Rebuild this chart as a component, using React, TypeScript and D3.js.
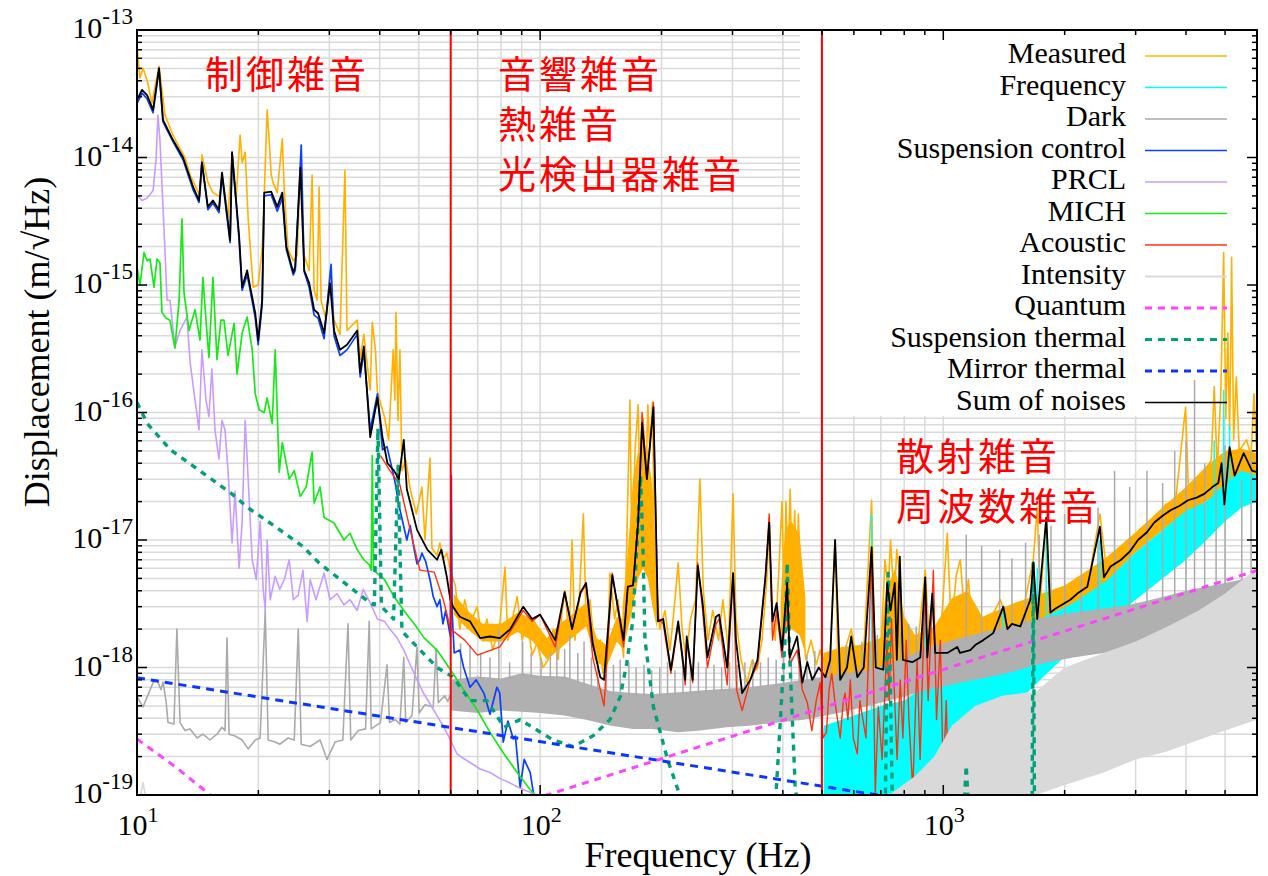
import React from "react";
import * as d3 from "d3";

type Pt = [number, number];
type Bd = [number, number, number];

// ---------------- data (frequency Hz, displacement m/rtHz) ----------------
const sumOfNoises: Pt[] = [
  [10,2.83e-14],[10.29,3.39e-14],[10.59,3.09e-14],[10.96,2.36e-14],[11.34,5.03e-14],[11.6,1.97e-14],[12.28,1.37e-14],[13.01,1.0e-14],[13.77,5.9e-15],[14.25,4.6e-15],[14.49,9.1e-15],[14.99,4.1e-15],[15.43,4.6e-15],[15.97,3.9e-15],[16.25,7.6e-15],[17.02,2.25e-15],[17.21,1.1e-14],[17.92,2.4e-15],[18.23,9.6e-16],[18.76,1.3e-15],[19.09,9.6e-16],[19.65,6.0e-16],[19.98,3.7e-16],[20.44,7.6e-16],[20.68,5.3e-15],[21.52,5.4e-15],[22.28,4.1e-15],[22.93,5.3e-15],[23.46,2.0e-15],[24.42,1.25e-15],[24.69,1.4e-15],[25.43,8.3e-15],[25.99,1.3e-15],[26.73,1.04e-15],[27.5,6.4e-16],[28.13,6.0e-16],[29.11,4.2e-16],[30.12,1.03e-15],[30.81,4.4e-16],[31.88,3.1e-16],[33.18,3.4e-16],[35.17,4.4e-16],[35.78,2.05e-16],[36.53,3.3e-16],[37.89,6.4e-17],[39.48,1.3e-16],[40.64,6.4e-17],[41.8,4.0e-17],[43.4,3.5e-17],[44.6,3.0e-17],[45.9,6.1e-17],[46.7,2.5e-17],[49.5,1.2e-17],[52.5,8.4e-18],[55.5,7.0e-18],[56.9,8.4e-18],[58.7,5.1e-18],[59.9,3.4e-18],[60.8,3.0e-18],[63.2,2.5e-18],[67.0,2.3e-18],[71.0,1.7e-18],[75.1,1.75e-18],[79.4,1.7e-18],[84.3,2.0e-18],[90.8,3.0e-18],[95.5,2.4e-18],[100,2.6e-18],[109,1.64e-18],[115,3.9e-18],[120,2.0e-18],[126,3.9e-18],[130,4.6e-18],[135,1.55e-18],[141,8.4e-19],[144,8.0e-19],[151,5.3e-18],[161,1.64e-18],[165,4.3e-18],[170,4.4e-18],[175,1.37e-17],[179,8.3e-17],[184,3.0e-17],[191,1.1e-16],[196,2.3e-18],[202,2.4e-18],[211,9.6e-19],[220,2.3e-18],[229,8.0e-19],[231,1.75e-18],[239,8.0e-19],[246,6.3e-18],[253,3.2e-18],[260,1.2e-18],[273,2.5e-18],[278,2.6e-18],[291,1.0e-18],[301,5.5e-18],[306,1.64e-18],[317,6.3e-19],[332,8.0e-19],[346,1.15e-18],[362,5.1e-18],[370,1.37e-17],[377,2.3e-18],[386,3.2e-18],[398,1.37e-18],[410,4.6e-18],[416,1.2e-18],[434,1.75e-18],[447,7.6e-19],[460,1.1e-18],[473,8.0e-19],[491,1.0e-18],[510,8.4e-19],[524,1.15e-18],[539,1.0e-17],[555,8.0e-19],[577,1.0e-18],[591,1.75e-18],[612,8.4e-19],[635,1.0e-18],[664,8.8e-18],[680,1.0e-18],[710,9.6e-19],[726,4.6e-18],[740,2.8e-18],[758,4.6e-18],[767,1.15e-18],[780,7.4e-18],[794,1.15e-18],[838,1.1e-18],[877,1.2e-18],[902,5.1e-18],[913,1.2e-18],[939,3.8e-18],[955,1.3e-18],[1023,1.3e-18],[1083,1.45e-18],[1100,1.3e-18],[1167,1.37e-18],[1200,1.5e-18],[1257,1.64e-18],[1330,1.86e-18],[1409,3.0e-18],[1442,2.0e-18],[1480,2.2e-18],[1553,2.1e-18],[1644,3.4e-18],[1672,6.6e-18],[1710,2.4e-18],[1801,1.5e-17],[1843,2.7e-18],[1900,2.9e-18],[2066,3.4e-18],[2150,3.8e-18],[2277,4.3e-18],[2446,1.27e-17],[2503,5.1e-18],[2600,6.2e-18],[2760,7.0e-18],[2900,8.1e-18],[3040,1.0e-17],[3200,1.15e-17],[3337,1.37e-17],[3500,1.55e-17],[3670,1.72e-17],[3850,1.85e-17],[4045,2.05e-17],[4250,2.15e-17],[4440,2.3e-17],[4650,2.6e-17],[4810,2.8e-17],[4900,4.0e-17],[4980,1.9e-17],[5130,5.35e-17],[5280,3.2e-17],[5560,4.8e-17],[5830,3.5e-17],[6000,3.4e-17]
];

const measured: Pt[] = [
  [10,7.4e-14],[10.17,4.2e-14],[10.35,5.0e-14],[10.59,4.06e-14],[10.89,2.68e-14],[11.34,5.2e-14],[11.73,2.16e-14],[12.28,1.5e-14],[12.79,1.17e-14],[13.15,1.0e-14],[13.54,7.3e-15],[14.09,5.6e-15],[14.33,5.0e-15],[14.49,1.05e-14],[14.99,6.4e-15],[15.43,5.3e-15],[16.06,4.9e-15],[16.25,7.6e-15],[16.82,3.4e-15],[17.21,1.1e-14],[17.6,4.6e-15],[18.02,1.5e-14],[18.23,9.1e-15],[18.55,1.1e-14],[18.87,3.3e-15],[19.42,9.6e-16],[19.98,1.0e-15],[20.44,1.9e-15],[20.68,5.1e-15],[21.03,2.37e-14],[21.28,1.37e-14],[21.52,7.3e-15],[21.77,6.3e-15],[22.28,5.3e-15],[22.93,1.4e-14],[23.19,5.6e-15],[23.7,1.9e-15],[24.42,1.55e-15],[24.97,1.7e-15],[25.41,8.7e-15],[25.99,1.7e-15],[26.73,1.3e-15],[27.19,7.3e-15],[27.5,9.1e-16],[27.97,7.6e-16],[28.29,5.9e-15],[28.62,7.6e-16],[29.45,5.3e-16],[30.12,1.3e-15],[30.81,5.3e-16],[31.88,4.1e-16],[32.8,7.9e-15],[33.18,4.4e-16],[35.17,5.3e-16],[35.78,2.6e-16],[36.53,4.1e-16],[37.89,1.5e-16],[38.34,5.1e-16],[39.03,3.1e-16],[39.48,1.45e-16],[41.11,9.2e-17],[42.1,6.1e-17],[43.2,3.1e-16],[43.6,1.25e-16],[43.9,6.1e-16],[44.4,8.7e-17],[44.9,3.1e-16],[45.4,3.5e-17],[46.5,4.2e-17],[47.6,2.5e-17],[49.3,1.6e-17],[50.9,2.6e-17],[51.8,1.0e-17],[53.3,4.4e-17],[53.9,8.6e-18],[55.5,7.6e-18],[56.4,9.5e-18],[57.4,7.0e-18],[58.7,7.9e-18],[59.9,5.8e-18],[61.6,4.4e-18],[63.2,2.0e-18],[65,3.4e-18],[67,2.2e-18],[69.8,3.0e-18],[71.8,1.64e-18],[73.8,2.4e-18],[76.3,1.37e-18],[79.4,2.2e-18],[81.8,6.1e-18],[83.2,1.64e-18],[85.8,2.6e-18],[87.7,3.6e-18],[90.3,1.64e-18],[92.9,2.4e-18],[95.5,1.25e-18],[98.3,1.55e-18],[101.7,1.0e-18],[104.7,1.15e-18],[107.7,2.0e-18],[110.8,1.15e-18],[113.4,2.8e-18],[115.4,4.0e-18],[118,1.64e-18],[120,1.0e-17],[122,1.64e-18],[125,3.4e-18],[128,1.6e-17],[130,2.4e-18],[133,3.4e-18],[137,1.15e-18],[141,1.64e-18],[143,9.0e-19],[147,1.37e-18],[149,5.5e-18],[153,2.4e-18],[156,3.4e-18],[161,1.2e-18],[163,4.0e-18],[167,1.25e-16],[169,7.0e-18],[172,5.1e-17],[175,1.15e-16],[177,2.05e-17],[180,9.0e-17],[183,3.0e-17],[185,1.15e-16],[187,5.1e-17],[190,1.2e-16],[192,8.4e-18],[195,4.0e-18],[198,2.0e-18],[204,2.8e-18],[210,1.37e-18],[216,3.4e-18],[220,6.6e-18],[225,2.0e-18],[230,1.15e-18],[236,2.4e-18],[243,3.4e-18],[249,3.0e-17],[254,4.0e-18],[261,1.64e-18],[268,2.8e-18],[277,1.64e-18],[284,3.4e-18],[293,1.37e-18],[301,2.3e-17],[306,2.4e-18],[315,1.15e-18],[326,7.6e-19],[336,1.15e-18],[345,9.6e-19],[355,1.64e-18],[365,4.9e-18],[370,1.5e-17],[374,3.4e-18],[383,1.64e-18],[392,7.0e-18],[398,2.0e-17],[404,2.4e-18],[407,2.0e-17],[412,7.0e-18],[417,2.5e-17],[422,4.9e-18],[428,1.7e-17],[433,3.4e-18],[437,1.6e-17],[446,2.4e-18],[456,1.15e-18],[470,1.64e-18],[484,1.05e-18],[495,1.37e-18],[513,9.6e-19],[524,1.25e-18],[539,1.0e-17],[548,1.05e-18],[570,1.37e-18],[591,2.0e-18],[612,1.1e-18],[635,1.37e-18],[664,2.05e-17],[676,1.25e-18],[700,1.37e-18],[717,7.0e-18],[730,4.0e-18],[740,1.0e-17],[755,3.4e-18],[767,8.4e-18],[782,4.9e-18],[794,1.5e-18],[828,1.25e-18],[867,1.64e-18],[902,5.8e-18],[923,1.64e-18],[955,2.0e-18],[983,1.64e-18],[1023,1.13e-17],[1047,2.0e-18],[1077,5.3e-18],[1102,7.0e-18],[1127,2.8e-18],[1154,4.9e-18],[1180,2.0e-18],[1235,2.2e-18],[1308,2.4e-18],[1385,3.4e-18],[1425,2.6e-18],[1509,2.8e-18],[1597,3.4e-18],[1672,7.0e-18],[1710,1.8e-17],[1741,3.4e-18],[1801,1.5e-17],[1843,3.1e-18],[1951,3.6e-18],[2066,4.0e-18],[2188,4.9e-18],[2317,5.8e-18],[2446,1.6e-17],[2523,7.0e-18],[2672,7.6e-18],[2830,9.2e-18],[2996,1.1e-17],[3175,1.3e-17],[3360,1.45e-17],[3560,1.9e-17],[3770,2.05e-17],[3990,1.1e-16],[4060,2.2e-17],[4230,2.9e-17],[4440,3.5e-17],[4620,4.2e-17],[4700,1.6e-16],[4780,3.5e-17],[4880,1.4e-16],[4960,1.8e-15],[5020,9.0e-17],[5080,4.2e-16],[5130,7.3e-17],[5160,2.5e-16],[5190,1.65e-15],[5250,6.1e-17],[5330,1.9e-16],[5420,5.0e-17],[5650,6.1e-17],[5800,4.6e-17],[5900,1.4e-16],[6000,4.2e-17]
];

const measuredBandLow: Bd[] = [
  [61,2.6e-18,3.8e-18],[66,2.0e-18,2.8e-18],[72,1.6e-18,2.2e-18],[80,1.6e-18,2.2e-18],[88,1.9e-18,2.7e-18],[96,1.6e-18,2.4e-18],[104,1.15e-18,1.7e-18],[112,1.4e-18,2.2e-18],[120,1.7e-18,2.6e-18],[130,2.1e-18,3.2e-18],[138,1.1e-18,1.7e-18],[146,1.0e-18,1.5e-18],[155,1.6e-18,2.5e-18],[160,1.4e-18,2.4e-18]
];
const measuredBand170: Bd[] = [
  [160,1.3e-18,3e-18],[165,2e-18,8e-18],[170,3e-18,3e-17],[175,5e-18,5e-17],[180,6e-18,6e-17],[185,5e-18,5e-17],[190,3e-18,2.5e-17],[195,2e-18,4e-18]
];
const measuredBand420: Bd[] = [
  [395,1.5e-18,3.5e-18],[405,2e-18,1.2e-17],[420,2e-18,1.4e-17],[440,1.8e-18,1.1e-17],[455,1.3e-18,3.5e-18]
];
const measuredBandHigh: Bd[] = [
  [505,7.5e-19,1.3e-18],[560,8e-19,1.45e-18],[620,8.5e-19,1.5e-18],[700,9e-19,1.7e-18],[720,1e-18,4e-18],[760,1.1e-18,6e-18],[800,1e-18,2.5e-18],[850,1e-18,1.8e-18],[950,1.1e-18,2.1e-18],[1050,1.2e-18,3.5e-18],[1150,1.3e-18,4e-18],[1250,1.4e-18,2.5e-18],[1500,1.9e-18,3.2e-18],[2000,2.8e-18,4.4e-18],[2500,4.5e-18,7e-18],[3000,8e-18,1.15e-17],[3500,1.2e-17,1.8e-17],[4000,1.6e-17,2.6e-17],[4500,2e-17,3.8e-17],[5000,2.3e-17,5e-17],[5500,2.8e-17,5.2e-17],[6000,2.8e-17,4.8e-17]
];

const frequencyBand: Bd[] = [
  [505,5e-20,3.5e-19],[600,5e-20,4.2e-19],[700,6e-20,5e-19],[800,8e-20,5.5e-19],[890,1.05e-19,7e-19],[1000,1.8e-19,8e-19],[1190,2.7e-19,9.6e-19],[1440,4.4e-19,1.6e-18],[1740,8e-19,2.4e-18],[2100,1.4e-18,3.2e-18],[2540,2.2e-18,4.8e-18],[3000,3.4e-18,8e-18],[3500,5e-18,1.2e-17],[4000,7e-18,1.7e-17],[4500,1e-17,2e-17],[5000,1.4e-17,2.8e-17],[5500,1.8e-17,3.5e-17],[6000,2e-17,3.2e-17]
];
const frequencySpikes: Pt[] = [
  [664,1.6e-17],[902,4e-18],[1409,2.8e-18],[1710,6e-18],[1801,1.5e-17],[2446,1e-17],[4700,6e-17],[4960,1.5e-16],[5130,8e-17]
];

const darkLow: Pt[] = [
  [10,5.9e-19],[10.35,4.9e-19],[10.65,6.1e-19],[10.96,7.6e-19],[11.21,8e-19],[11.47,6.7e-19],[11.6,7.7e-19],[11.8,5.5e-19],[11.94,3.7e-19],[12.35,3.6e-19],[12.56,2.0e-18],[12.79,3.7e-19],[13.15,3.2e-19],[13.54,3.3e-19],[14.09,2.8e-19],[14.57,3.0e-19],[15.17,2.7e-19],[15.79,3.0e-19],[16.25,3.4e-19],[16.53,3.2e-19],[16.72,1.7e-18],[16.92,3.0e-19],[17.51,2.9e-19],[18.23,2.7e-19],[18.87,2.3e-19],[19.65,2.7e-19],[20.2,2.8e-19],[20.8,2.8e-18],[21.15,2.7e-19],[22.02,2.6e-19],[22.6,2.5e-19],[23.7,2.8e-19],[24.55,2.7e-19],[25.12,2.0e-18],[25.55,2.5e-19],[26.88,2.4e-19],[28.45,2.7e-19],[29.61,1.9e-19],[31.0,2.6e-19],[32.4,2.7e-19],[33.37,2.2e-18],[33.9,2.7e-19],[35.4,3.2e-19],[36.9,3.3e-19],[37.67,2.3e-18],[38.1,3.3e-19],[40.17,3.7e-19],[41.7,1.05e-18],[42.3,3.7e-19],[43.7,3.9e-19],[44.9,3.6e-19],[45.9,1.2e-18],[46.4,3.7e-19],[48.1,4.2e-19],[49.5,1.45e-18],[50.1,4.4e-19],[51.8,5.1e-19],[54.3,4.9e-19],[55.2,1.4e-18],[55.9,5.3e-19],[58,6.0e-19],[59,5.4e-19],[60,6.2e-19]
];
const darkBand: Bd[] = [
  [60,4.6e-19,8e-19],[70,4.4e-19,8.5e-19],[80,4.6e-19,8.2e-19],[90,4.5e-19,9e-19],[100,4.4e-19,8.6e-19],[115,4.2e-19,8.5e-19],[130,3.9e-19,7.5e-19],[150,3.5e-19,6.5e-19],[170,3.3e-19,6.3e-19],[190,3.3e-19,6.2e-19],[220,3.1e-19,6.4e-19],[250,3.2e-19,6.6e-19],[290,3.4e-19,6.8e-19],[330,3.5e-19,7e-19],[390,3.7e-19,7.5e-19],[450,3.9e-19,8e-19],[550,4.4e-19,8.8e-19],[650,5e-19,9.5e-19],[780,5.8e-19,1.15e-18],[900,6.6e-19,1.4e-18],[1100,7.6e-19,1.7e-18],[1440,9e-19,2.1e-18],[1700,1.05e-18,2.4e-18],[2100,1.2e-18,2.7e-18],[2500,1.3e-18,2.9e-18],[2900,1.4e-18,3.1e-18],[3400,1.5e-18,3.5e-18],[4000,1.6e-18,4e-18],[5000,1.8e-18,4.6e-18],[6000,2e-18,5.2e-18]
];
const darkSpikes: Pt[] = [
  [63.5,1.55e-18],[67,1.5e-18],[71.2,1.3e-18],[75.1,1.2e-18],[79,2e-18],[84,1.1e-18],[90.5,1.6e-18],[95,1.3e-18],[100.5,1.2e-18],[106,1.3e-18],[110,2e-18],[115,1.4e-18],[118.5,1.8e-18],[124,1.3e-18],[128.5,1.6e-18],[134,1.2e-18],[139,1.1e-18],[146,1.2e-18],[152,1.05e-18],[158,1.15e-18],[166,1.1e-18],[173,1e-18],[181,1.05e-18],[189,9.5e-19],[198,1e-18],[207,1.1e-18],[216,9.5e-19],[226,1.05e-18],[236,1e-18],[247,1.1e-18],[258,1e-18],[270,1.05e-18],[282,1e-18],[295,1.1e-18],[308,1.05e-18],[322,1.1e-18],[337,1.15e-18],[352,1.1e-18],[368,1.2e-18],[385,1.15e-18],[402,1.25e-18],[420,1.2e-18],[439,1.3e-18],[459,1.25e-18],[480,1.35e-18],[502,1.3e-18],[525,1.4e-18],[549,1.35e-18],[574,1.5e-18],[600,1.4e-18],[628,1.6e-18],[656,1.5e-18],[686,1.8e-18],[717,1.7e-18],[750,2e-18],[784,1.9e-18],[820,2.2e-18],[857,2.1e-18],[896,2.5e-18],
  [1140,1.1e-17],[1245,9e-18],[1380,8.4e-18],[1480,7.2e-18],[1600,9.5e-18],[1730,1.1e-17],[1850,1.3e-17],[2000,1.6e-17],[2200,1.5e-17],[2420,1.8e-17],[2660,3.5e-17],[2900,2.6e-17],[3200,3.5e-17],[3500,2.8e-17],[3750,5e-17],[4000,6e-17],[4200,1.8e-16],[4450,4e-17],[4750,2.8e-17],[5000,5.5e-17],[5500,3e-17],[5800,5e-17]
];

const suspensionControl: Pt[] = [
  [10,2.65e-14],[10.29,3.2e-14],[10.59,2.9e-14],[10.96,2.25e-14],[11.34,4.9e-14],[11.6,1.9e-14],[12.28,1.33e-14],[13.01,9.6e-15],[13.77,5.6e-15],[14.25,4.45e-15],[14.49,9.2e-15],[14.99,3.9e-15],[15.43,4.4e-15],[15.97,3.7e-15],[16.25,7.2e-15],[17.02,2.15e-15],[17.21,1.07e-14],[17.92,2.25e-15],[18.23,9.1e-16],[18.76,1.2e-15],[19.09,9.1e-16],[19.65,5.5e-16],[19.98,3.4e-16],[20.44,7.0e-16],[20.68,5.0e-15],[21.52,5.1e-15],[22.28,3.8e-15],[22.93,4.8e-15],[23.46,1.9e-15],[24.42,1.2e-15],[24.69,1.3e-15],[25.55,1.25e-14],[25.99,1.27e-15],[26.73,9.6e-16],[27.5,5.8e-16],[28.13,5.5e-16],[29.11,3.8e-16],[30.3,1.45e-15],[30.81,4.0e-16],[31.88,2.8e-16],[33.18,3.1e-16],[35.17,4.1e-16],[35.78,1.9e-16],[36.53,3.0e-16],[37.89,7.3e-17],[39.48,1.4e-16],[40.64,5.1e-17],[41.7,5.4e-17],[43.7,2.8e-17],[44.6,1.9e-17],[46.7,1.0e-17],[47.6,1.3e-17],[48.7,8.4e-18],[49.5,6.5e-18],[50.3,7.0e-18],[50.9,7.9e-18],[52,6.8e-18],[53.3,4.9e-18],[54.3,3.6e-18],[55.5,3.0e-18],[56.4,3.4e-18],[57.4,2.2e-18],[58.3,2.8e-18],[59.9,1.75e-18],[60.2,3.2e-17],[60.5,2.7e-18],[61.2,1.3e-18],[63.2,1.37e-18],[64.6,1.0e-18],[67,7.0e-19],[69.4,8.0e-19],[72.5,6.3e-19],[75.1,4.3e-19],[78.1,7.0e-19],[79.4,6.3e-19],[81,2.6e-19],[83.2,3.8e-19],[85.8,2.75e-19],[86.8,2.9e-19],[89.2,1.15e-19],[91.3,1.9e-19],[94.5,1.5e-19],[96.2,1.04e-19],[98.3,9.0e-20]
];

const prcl: Pt[] = [
  [10,5.1e-15],[10.29,4.6e-15],[10.59,4.8e-15],[10.96,5.5e-15],[11.15,9.6e-15],[11.27,2.15e-14],[11.4,1.37e-14],[11.6,4.1e-15],[11.73,1.9e-15],[11.87,7.6e-16],[12.07,7.6e-16],[12.42,3.3e-16],[12.79,4.4e-16],[13.3,5.6e-16],[13.54,2.5e-16],[13.93,1.25e-16],[14.25,7.3e-17],[14.49,3.1e-16],[14.83,1.25e-16],[15.08,9.3e-17],[15.34,2.2e-16],[15.61,7.3e-17],[15.97,4.3e-17],[16.25,8.7e-17],[16.53,7.3e-17],[16.82,3.5e-17],[17.21,9.5e-18],[17.51,2.4e-17],[17.92,6e-18],[18.23,1.4e-17],[18.55,8.7e-17],[18.87,3e-17],[19.31,7e-18],[19.76,4.9e-18],[20.21,1.4e-17],[20.56,4.1e-18],[20.8,2.8e-18],[21.03,1e-17],[21.4,3.4e-18],[22.02,5.2e-18],[22.6,4.1e-18],[23.19,4.9e-18],[23.86,7e-18],[24.42,3.4e-18],[25.12,3.7e-18],[25.8,5.8e-18],[26.43,2.3e-18],[26.88,4.9e-18],[27.8,3.4e-18],[29.11,5.5e-18],[30.12,3.4e-18],[31.34,3.8e-18],[32.6,3.1e-18],[33.75,3.4e-18],[35.17,2.8e-18],[36.4,4.1e-18],[37.89,3.2e-18],[39.48,2.4e-18],[41.1,2.3e-18],[42.4,2e-18],[44.2,1.7e-18],[45.9,1.37e-18],[47.6,1.05e-18],[49.5,8e-19],[51.2,6.4e-19],[53.3,5.2e-19],[55.5,4.2e-19],[57.7,3.4e-19],[59.9,2.7e-19],[62.2,2.1e-19],[64.3,1.95e-19],[67,1.8e-19],[71,1.6e-19],[75.1,1.5e-19],[79.4,1.35e-19],[84.3,1.24e-19],[89.2,1.13e-19],[94.5,1.05e-19],[98.3,9.6e-20]
];

const mich: Pt[] = [
  [10,1.38e-15],[10.17,1e-15],[10.41,1.8e-15],[10.59,1.55e-15],[10.77,1.6e-15],[11.02,9.6e-16],[11.21,1.6e-15],[11.4,1.5e-15],[11.53,6.1e-16],[11.8,5.5e-16],[12.07,5.3e-16],[12.42,3.2e-16],[12.72,7.6e-16],[12.93,3.3e-15],[13.08,8.7e-16],[13.46,4.4e-16],[13.93,6.4e-16],[14.33,3.7e-16],[14.57,1.15e-15],[14.83,5.3e-16],[15.08,2.7e-16],[15.43,1.15e-15],[15.79,2.6e-16],[16.15,5.3e-16],[16.43,5.3e-16],[16.82,2.8e-16],[17.41,5e-16],[17.71,2e-16],[18.23,4.2e-16],[18.76,5.6e-16],[19.31,3.1e-16],[19.65,1.4e-16],[20.09,1.05e-16],[20.68,1e-16],[21.03,1.3e-16],[21.65,8.2e-17],[22.02,3.1e-16],[22.53,3.4e-17],[22.93,5.8e-17],[23.86,3e-17],[24.55,3.5e-17],[25.41,2.2e-17],[26.27,2.6e-17],[27.19,4.9e-17],[27.5,1.95e-17],[28.45,2.6e-17],[29.11,1.5e-17],[30.81,1.36e-17],[32.61,1e-17],[33.75,1.13e-17],[35.17,8.4e-18],[36.53,7e-18],[37.67,6.4e-18],[38.1,5.8e-18],[38.34,4.6e-17],[38.6,5.8e-18],[41.1,4.9e-18],[43.4,3.6e-18],[45.9,2.8e-18],[48.7,2.2e-18],[51.6,1.7e-18],[55.5,1.37e-18],[59.9,9.6e-19],[64.6,6.7e-19],[69.9,4.6e-19],[75.1,3.1e-19],[81.4,2.1e-19],[87.7,1.5e-19],[94.5,1.1e-19],[100,9.1e-20]
];

const acoustic: Pt[] = [
  [40.17,4.6e-17],[42.4,3.5e-17],[44.9,2.7e-17],[47.6,1.2e-17],[50.3,5.8e-18],[54.6,5.6e-18],[57.5,3.4e-18],[60,2.0e-18],[65,1.64e-18],[69.9,1.25e-18],[79.4,1.45e-18],[85,2.0e-18],[90.8,2.8e-18],[95.5,2.3e-18],[100,2.6e-18],[109,1.45e-18],[115,3.9e-18],[120,2.0e-18],[126,3.8e-18],[130,4.5e-18],[135,1.2e-18],[141,6.7e-19],[144,5.0e-19],[151,5.5e-18],[161,1.45e-18],[165,4.3e-18],[170,4.4e-18],[175,1.37e-17],[179,1.0e-16],[184,3.0e-17],[191,1.2e-16],[196,2.4e-18],[202,2.2e-18],[211,9.0e-19],[220,2.2e-18],[229,7.3e-19],[231,1.64e-18],[239,7.6e-19],[246,6.6e-18],[253,2.8e-18],[260,1.0e-18],[273,2.2e-18],[278,2.4e-18],[291,7.3e-19],[301,5.5e-18],[307,6.7e-19],[317,4.6e-19],[332,8.0e-19],[346,1.05e-18],[362,5.1e-18],[370,1.6e-17],[377,1.64e-18],[386,2.8e-18],[398,1.2e-18],[410,3.4e-18],[416,1.05e-18],[434,1.37e-18],[447,6.7e-19],[460,5.3e-19],[472,3.2e-19],[484,5.5e-19],[495,7.6e-19],[503,2.8e-19],[513,3.1e-19],[521,6.7e-19],[529,9.0e-19],[538,5.5e-19],[555,2.8e-19],[565,5.5e-19],[571,6.3e-19],[580,3.9e-19],[588,8.0e-19],[598,2.8e-19],[612,2.1e-19],[621,5.5e-19],[627,4.5e-19],[643,2.8e-19],[664,8.4e-18],[678,1.03e-19],[690,4.9e-19],[705,1.9e-19],[725,1.64e-18],[734,5.5e-19],[744,2.4e-18],[756,6.7e-19],[768,1.9e-19],[782,8.0e-19],[794,2.8e-19],[809,1.64e-18],[822,3.9e-19],[840,1.1e-19],[861,1.15e-18],[876,1.9e-19],[902,5.1e-18],[917,5.5e-19],[945,5.8e-18],[962,3.9e-19],[983,1.64e-18],[1000,1.3e-19],[1017,5.5e-19],[1030,1.1e-19],[1040,7.6e-20]
];

const intensityLow: Pt[] = [[10,7e-20],[10.35,1.25e-19],[10.7,7e-20]];
const intensityBand: Bd[] = [
  [700,5e-20,9e-20],[850,5e-20,1.4e-19],[950,5.5e-20,2e-19],[1050,6e-20,3.5e-19],[1200,7e-20,5e-19],[1400,8e-20,6e-19],[1700,1e-19,6.5e-19],[2000,1.2e-19,1e-18],[2500,1.5e-19,1.3e-18],[3000,1.9e-19,1.6e-18],[3600,2.2e-19,2.1e-18],[4300,2.7e-19,2.8e-18],[5000,3.2e-19,3.8e-18],[6000,3.9e-19,6e-18]
];

const quantum: Pt[] = [[10,2.75e-19],[12.5,1.65e-19],[15.2,1e-19],[20,5.8e-20],[50,4.8e-20],[104,1e-19],[673,6.5e-19],[6000,5.77e-18]];
const suspensionThermal: Pt[] = [
  [10,1.2e-16],[10.6,8.2e-17],[12.1,5.1e-17],[15.4,2.96e-17],[17.2,2.3e-17],[18.8,1.8e-17],[22.3,1.24e-17],[25.8,8.9e-18],[28.3,6.6e-18],[37.9,3.2e-18],[38.8,3.1e-18],[39.6,7.5e-17],[40.4,3.0e-18],[43.3,2.4e-18],[44.4,3.8e-17],[45.4,2.0e-18],[45.9,1.86e-18],[55.5,1.0e-18],[60.8,8.4e-19],[67,5.5e-19],[73.8,5.5e-19],[81.4,3.4e-19],[89.2,3.9e-19],[107.7,2.7e-19],[120.7,2.4e-19],[135,2.9e-19],[149,3.9e-19],[158,5.9e-19],[164,1.08e-18],[170,2.4e-18],[174,1e-17],[177.5,3.2e-17],[180,8e-18],[182,1.64e-18],[191,4.9e-19],[207,1.9e-19],[222,1e-19],[240,6e-20],[383,8e-20],[405,1.64e-18],[410,6.6e-18],[416,1.2e-18],[429,1.2e-19],[440,6e-20],[718,8e-20],[725,1.2e-18],[730,5.5e-18],[737,1.2e-18],[748,8e-20],[1120,6e-20],[1140,1.7e-19],[1160,6e-20],[1660,6e-20],[1672,6.6e-18],[1684,6e-20],[6000,6e-20]
];
const mirrorThermal: Pt[] = [[10,8.3e-19],[700,9.9e-20]];

const legendLabels = ["Measured","Frequency","Dark","Suspension control","PRCL","MICH","Acoustic","Intensity","Quantum","Suspension thermal","Mirror thermal","Sum of noises"];
const xMajorTicks = [10, 100, 1000];
const xTickExponents = ["1", "2", "3"];
const yMajorTicks = [1e-13, 1e-14, 1e-15, 1e-16, 1e-17, 1e-18, 1e-19];
const yTickExponents = ["-13","-14","-15","-16","-17","-18","-19"];
const boundaryFreqs = [60, 500];
const annotationLines = ["制御雑音", "音響雑音", "熱雑音", "光検出器雑音", "散射雑音", "周波数雑音"];

// ---------------- styles ----------------
const C = {
  measured: "#ffb000", frequency: "#00ffff", dark: "#aaaaaa", darkBand: "#b0b0b0", susp: "#0a40ff", prcl: "#c89cff",
  mich: "#18e818", acoustic: "#ff3010", intensity: "#d9d9d9", quantum: "#ff44ff",
  sthermal: "#00a07a", mthermal: "#0a36ff", sum: "#000000",
};
const legendStyles = [
  { c: C.measured, w: 1.6 }, { c: C.frequency, w: 1.6 }, { c: C.dark, w: 1.6 }, { c: C.susp, w: 1.6 },
  { c: C.prcl, w: 1.6 }, { c: C.mich, w: 1.6 }, { c: C.acoustic, w: 1.6 }, { c: C.intensity, w: 2 },
  { c: C.quantum, w: 3, dash: "7,6" }, { c: C.sthermal, w: 3, dash: "7,6" }, { c: C.mthermal, w: 3, dash: "7,6" },
  { c: C.sum, w: 1.4 },
];

const L = 137, R = 1257, T = 30, B = 795;
const x = d3.scaleLog().domain([10, 6000]).range([L, R]);
const y = d3.scaleLog().domain([1e-19, 1e-13]).range([B, T]);
const line = d3.line<Pt>().x((d) => x(d[0])).y((d) => y(d[1]));
const area = d3.area<Bd>().x((d) => x(d[0])).y0((d) => y(d[1])).y1((d) => y(d[2]));

function bandTop(band: Bd[], f: number): number {
  for (let i = 0; i < band.length - 1; i++) {
    const a = band[i], b = band[i + 1];
    if (f >= a[0] && f <= b[0]) {
      const t = (Math.log(f) - Math.log(a[0])) / (Math.log(b[0]) - Math.log(a[0]));
      return Math.exp(Math.log(a[2]) + t * (Math.log(b[2]) - Math.log(a[2])));
    }
  }
  return band[band.length - 1][2];
}
function spikes(sp: Pt[], band: Bd[]) {
  return sp.map(([f, v]) => `M${x(f)},${y(bandTop(band, f) * 0.95)}L${x(f)},${y(v)}`).join("");
}

const SERIF = "'Liberation Serif','Times New Roman',serif";
const CJK = "'Noto Sans CJK JP','Noto Sans CJK SC',sans-serif";

export default function App() {
  const xMinor: number[] = [];
  [10, 100, 1000].forEach((d) => { for (let k = 1; k <= 9; k++) { const v = d * k; if (v <= 6000) xMinor.push(v); } });
  const yMinor: number[] = [];
  for (let e = -19; e < -13; e++) for (let k = 1; k <= 9; k++) yMinor.push(k * Math.pow(10, e));
  yMinor.push(1e-13);

  const lineProps = (c: string, w: number, dash?: string) => ({ fill: "none", stroke: c, strokeWidth: w, strokeDasharray: dash, strokeLinejoin: "round" as const });

  return (
    <svg width={1268} height={876} style={{ position: "absolute", left: 0, top: 0, background: "#fff" }}>
      <defs>
        <clipPath id="plotClip"><rect x={L} y={T} width={R - L} height={B - T} /></clipPath>
      </defs>
      <rect x={0} y={0} width={1268} height={876} fill="#fff" />
      <g stroke="#dadada" strokeWidth={1.5}>
        {xMinor.map((v, i) => <line key={"gx" + i} x1={x(v)} x2={x(v)} y1={T} y2={B} />)}
        {yMinor.map((v, i) => <line key={"gy" + i} x1={L} x2={R} y1={y(v)} y2={y(v)} />)}
      </g>
      <rect x={800} y={T + 1} width={R - 800} height={415 - T} fill="#fff" />

      <g clipPath="url(#plotClip)">
        <path d={area(measuredBandHigh) || ""} fill={C.measured} />
        <path d={area(measuredBandLow) || ""} fill={C.measured} />
        <path d={area(measuredBand170) || ""} fill={C.measured} />
        <path d={area(measuredBand420) || ""} fill={C.measured} />
        <path d={line(measured) || ""} {...lineProps(C.measured, 1.6)} />
        <path d={area(frequencyBand) || ""} fill={C.frequency} />
        <path d={spikes(frequencySpikes, frequencyBand)} {...lineProps(C.frequency, 1.6)} />
        <path d={line(darkLow) || ""} {...lineProps(C.dark, 1.6)} />
        <path d={area(darkBand) || ""} fill={C.darkBand} />
        <path d={spikes(darkSpikes, darkBand)} {...lineProps(C.dark, 1.5)} />
        <path d={line(suspensionControl) || ""} {...lineProps(C.susp, 1.7)} />
        <path d={line(prcl) || ""} {...lineProps(C.prcl, 1.6)} />
        <path d={line(mich) || ""} {...lineProps(C.mich, 1.7)} />
        <path d={line(acoustic) || ""} {...lineProps(C.acoustic, 1.4)} />
        <path d={line(intensityLow) || ""} {...lineProps(C.intensity, 1.6)} />
        <path d={area(intensityBand) || ""} fill={C.intensity} />
        <path d={line(quantum) || ""} {...lineProps(C.quantum, 3, "7,6")} />
        <path d={line(suspensionThermal) || ""} {...lineProps(C.sthermal, 3.4, "6,6")} />
        <path d={line(mirrorThermal) || ""} {...lineProps(C.mthermal, 3, "8,6")} />
        <path d={line(sumOfNoises) || ""} {...lineProps(C.sum, 1.8)} />
      </g>

      {boundaryFreqs.map((f) => (
        <line key={"b" + f} x1={x(f)} x2={x(f)} y1={T} y2={B} stroke="#ff0000" strokeWidth={2} />
      ))}

      <rect x={L} y={T} width={R - L} height={B - T} fill="none" stroke="#000" strokeWidth={2} />
      <g stroke="#000" strokeWidth={1.5}>
        {xMinor.map((v, i) => {
          const len = xMajorTicks.includes(v) ? 10 : 5;
          return (
            <g key={"tx" + i}>
              <line x1={x(v)} x2={x(v)} y1={B} y2={B - len} />
              <line x1={x(v)} x2={x(v)} y1={T} y2={T + len} />
            </g>
          );
        })}
        {yMinor.map((v, i) => {
          const major = yMajorTicks.some((m) => Math.abs(m - v) / m < 1e-6);
          const len = major ? 10 : 5;
          return (
            <g key={"ty" + i}>
              <line x1={L} x2={L + len} y1={y(v)} y2={y(v)} />
              <line x1={R} x2={R - len} y1={y(v)} y2={y(v)} />
            </g>
          );
        })}
      </g>

      <g fontFamily={SERIF} fill="#000">
        {xMajorTicks.map((v, i) => (
          <text key={"xl" + i} x={x(v) + 1} y={835} fontSize={30} textAnchor="middle">
            10<tspan dy={-13} fontSize={22}>{xTickExponents[i]}</tspan>
          </text>
        ))}
        {yMajorTicks.map((v, i) => (
          <text key={"yl" + i} x={133} y={y(v) + 8} fontSize={30} textAnchor="end">
            10<tspan dy={-14} fontSize={23}>{yTickExponents[i]}</tspan>
          </text>
        ))}
        <text x={(L + R) / 2 + 1} y={867} fontSize={36} textAnchor="middle">Frequency (Hz)</text>
        <text transform="translate(49,342) rotate(-90)" fontSize={36} textAnchor="middle">Displacement (m/√Hz)</text>
      </g>

      <g fontFamily={SERIF} fontSize={30}>
        {legendLabels.map((lab, i) => {
          const yy = 56 + 31.5 * i;
          const s = legendStyles[i];
          return (
            <g key={"lg" + i}>
              <text x={1126} y={yy + 7} textAnchor="end" fill="#000">{lab}</text>
              <line x1={1145} x2={1227} y1={yy} y2={yy} stroke={s.c} strokeWidth={s.w} strokeDasharray={s.dash} />
            </g>
          );
        })}
      </g>

      <g fontFamily={CJK} fontSize={38} fill="#ff0000" letterSpacing={3}>
        <text x={205} y={88}>{annotationLines[0]}</text>
        <text x={498} y={88}>{annotationLines[1]}</text>
        <text x={498} y={138}>{annotationLines[2]}</text>
        <text x={498} y={188}>{annotationLines[3]}</text>
        <text x={896} y={470}>{annotationLines[4]}</text>
        <text x={896} y={520}>{annotationLines[5]}</text>
      </g>
    </svg>
  );
}
